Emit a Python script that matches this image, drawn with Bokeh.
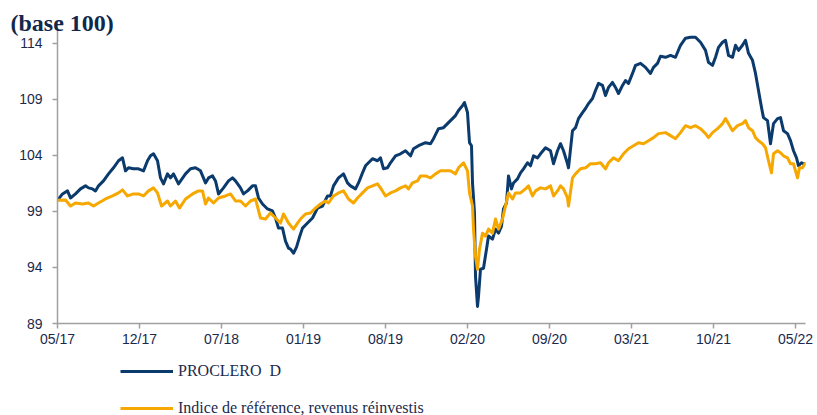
from bokeh.plotting import figure
from bokeh.layouts import column
from bokeh.models import ColumnDataSource, FixedTicker, Legend, LegendItem, Range1d, Title
from bokeh.embed import file_html
from bokeh.resources import INLINE

# ---- data (base 100) ----
# t: observation index along the category axis (one tick label every TICK_STEP observations)
fund_t = [0, 5, 10, 13, 18, 23, 28, 31, 35, 38, 41, 46, 51, 56, 61, 65, 68, 71, 76, 81, 86, 90, 93, 96, 100,
          103, 106, 110, 113, 116, 121, 128, 133, 138, 143, 148, 151, 155, 158, 161, 166, 171, 175, 178, 183,
          186, 190, 195, 198, 201, 205, 210, 215, 218, 221, 225, 228, 231, 233, 236, 239, 242, 245, 250, 255,
          260, 265, 270, 273, 276, 281, 286, 290, 293, 298, 301, 305, 308, 311, 315, 320, 323, 326, 330, 333,
          338, 343, 348, 353, 356, 361, 368, 373, 376, 381, 386, 391, 395, 398, 401, 405, 407, 410, 412, 414,
          415, 417, 418, 420, 421, 423, 426, 429, 431, 435, 438, 441, 444, 446, 449, 451, 454, 456, 460, 463,
          466, 470, 473, 476, 480, 483, 488, 493, 496, 500, 503, 506, 510, 511, 515, 518, 521, 525, 528, 531,
          535, 538, 541, 545, 548, 551, 555, 558, 561, 565, 568, 571, 575, 578, 583, 588, 593, 596, 600, 603,
          608, 613, 618, 623, 628, 633, 638, 643, 648, 651, 655, 658, 661, 665, 668, 671, 675, 678, 681, 685,
          688, 691, 695, 698, 701, 704, 706, 710, 713, 716, 720, 723, 726, 730, 733, 736, 739, 741, 744, 746, 748]
fund_v = [100.0, 100.56, 100.83, 100.20, 100.56, 101.01, 101.28, 101.10, 101.01, 100.83, 101.28, 101.72, 102.35,
          102.89, 103.52, 103.78, 102.62, 102.89, 102.80, 102.80, 102.62, 103.52, 103.96, 104.14, 103.52,
          101.99, 101.46, 102.35, 101.99, 102.35, 101.46, 102.35, 102.80, 102.89, 102.62, 101.54, 101.99,
          102.17, 101.72, 100.56, 101.10, 101.72, 101.99, 101.72, 101.10, 100.56, 100.83, 101.28, 101.28,
          100.20, 99.66, 99.22, 99.04, 98.41, 97.51, 97.51, 96.35, 95.72, 95.63, 95.27, 95.81, 96.71, 97.51,
          97.96, 98.41, 99.30, 99.48, 100.38, 100.38, 101.28, 101.99, 102.35, 101.54, 101.28, 101.01, 101.54,
          102.44, 103.07, 103.34, 103.70, 103.52, 103.78, 102.80, 102.89, 103.34, 103.96, 104.14, 104.41,
          103.96, 104.59, 104.86, 105.13, 105.04, 105.49, 106.38, 106.47, 106.92, 107.28, 107.55, 108.00,
          108.44, 108.71, 107.82, 105.13, 104.86, 101.54, 98.86, 93.21, 90.52, 91.42, 93.84, 93.93, 95.63,
          96.80, 96.53, 97.42, 97.06, 97.69, 99.22, 99.75, 102.17, 101.01, 101.54, 101.90, 102.44, 102.80,
          103.34, 103.07, 103.96, 103.78, 104.14, 104.68, 104.41, 103.25, 104.41, 105.04, 104.41, 103.25,
          102.89, 106.20, 106.47, 107.28, 107.82, 108.18, 108.62, 109.07, 109.79, 110.42, 110.24, 109.34,
          110.06, 110.51, 110.06, 109.52, 110.24, 110.68, 110.42, 111.31, 112.03, 112.21, 111.85, 111.31,
          111.85, 112.21, 112.84, 112.75, 112.92, 112.75, 113.82, 114.45, 114.54, 114.54, 114.09, 113.37,
          112.30, 112.03, 112.75, 113.64, 114.09, 114.27, 112.92, 112.75, 113.82, 113.37, 113.82, 114.27,
          113.10, 112.48, 111.31, 109.79, 108.27, 107.37, 107.10, 105.04, 106.83, 107.28, 107.37, 106.20,
          105.94, 105.31, 104.41, 103.78, 103.07, 103.34, 103.25, 103.25]

bench_t = [0, 8, 13, 18, 25, 31, 36, 41, 48, 55, 61, 65, 70, 76, 81, 86, 91, 96, 100, 104, 110, 113, 118, 122,
           128, 135, 141, 145, 148, 151, 156, 161, 168, 173, 178, 183, 188, 193, 198, 203, 208, 213, 218, 223,
           226, 231, 236, 240, 243, 248, 253, 258, 263, 268, 271, 276, 281, 286, 291, 296, 300, 305, 310, 315,
           320, 323, 328, 333, 338, 343, 348, 351, 355, 360, 363, 368, 373, 378, 383, 388, 393, 398, 401, 406,
           410, 412, 415, 416, 418, 420, 422, 425, 428, 431, 435, 438, 441, 445, 448, 451, 455, 458, 463, 468,
           471, 475, 478, 483, 488, 493, 496, 500, 503, 506, 510, 511, 515, 518, 523, 528, 533, 538, 543, 548,
           551, 556, 561, 566, 571, 576, 581, 586, 591, 596, 601, 608, 613, 618, 623, 628, 633, 638, 643, 648,
           651, 655, 660, 665, 668, 671, 675, 680, 685, 688, 691, 695, 698, 701, 705, 708, 711, 714, 716, 720,
           723, 726, 730, 733, 736, 740, 742, 745, 748]
bench_v = [100.0, 100.02, 99.48, 99.75, 99.66, 99.75, 99.48, 99.75, 100.11, 100.38, 100.65, 100.92, 100.38,
           100.56, 100.56, 100.38, 100.83, 101.10, 100.65, 99.48, 99.93, 99.48, 99.93, 99.30, 100.11, 100.56,
           100.83, 100.83, 99.66, 100.20, 99.75, 100.20, 100.38, 100.56, 99.93, 99.93, 99.48, 99.93, 100.11,
           98.41, 98.32, 98.86, 98.41, 97.96, 98.77, 97.96, 97.42, 97.96, 98.32, 98.77, 98.86, 99.30, 99.66,
           99.93, 99.75, 100.38, 100.65, 100.83, 100.11, 99.75, 100.20, 100.65, 101.10, 101.28, 101.46, 101.10,
           100.38, 100.65, 100.83, 101.10, 101.28, 101.01, 101.54, 101.72, 102.17, 102.17, 101.99, 102.35,
           102.62, 102.62, 102.62, 102.35, 102.89, 103.34, 102.62, 100.65, 99.48, 97.42, 95.00, 93.84, 95.63,
           97.06, 96.80, 97.42, 97.06, 98.32, 97.42, 98.32, 99.48, 100.65, 100.11, 100.65, 100.65, 101.01,
           101.28, 100.38, 100.83, 101.10, 101.01, 101.28, 100.38, 100.83, 101.28, 101.01, 100.20, 99.48,
           101.99, 102.35, 102.80, 102.89, 103.25, 103.25, 103.34, 102.80, 103.34, 103.78, 103.52, 104.14,
           104.59, 104.86, 105.13, 105.04, 105.31, 105.58, 105.94, 106.03, 105.76, 105.49, 106.03, 106.65,
           106.47, 106.65, 106.38, 105.94, 105.58, 106.03, 106.38, 106.83, 107.28, 106.83, 106.20, 106.65,
           106.83, 107.10, 106.47, 106.20, 105.58, 105.31, 105.04, 104.68, 103.52, 102.44, 104.14, 104.41,
           104.23, 103.96, 103.78, 103.25, 103.25, 101.99, 102.89, 102.89, 103.34]

series_names = ["PROCLERO  D", "Indice de référence, revenus réinvestis"]
tick_labels = ["05/17", "12/17", "07/18", "01/19", "08/19", "02/20", "09/20", "03/21", "10/21", "05/22"]
TICK_STEP = 82
y_ticks = [89, 94, 99, 104, 109, 114]
y_min, y_max = 89, 115.14
t_end = fund_t[-1]

NAVY = "#0b3a6c"
GOLD = "#f6a800"
TEXT = "#1b2a4c"
AXIS = "#a0a0a0"

fund_src = ColumnDataSource(dict(t=fund_t, v=fund_v))
bench_src = ColumnDataSource(dict(t=bench_t, v=bench_v))

# ---- main chart ----
p = figure(width=817, height=350, output_backend="svg", toolbar_location=None, title=None,
           x_range=Range1d(0, t_end), y_range=Range1d(y_min, y_max),
           min_border_left=57, min_border_right=12, min_border_top=30, min_border_bottom=27)
p.outline_line_color = None
p.grid.visible = False
p.background_fill_color = "white"
p.border_fill_color = "white"

p.line("t", "v", source=fund_src, line_color=NAVY, line_width=3, line_join="round")
p.line("t", "v", source=bench_src, line_color=GOLD, line_width=3, line_join="round")

xt = [i * TICK_STEP for i in range(len(tick_labels))]
p.xaxis.ticker = FixedTicker(ticks=xt, minor_ticks=[])
p.xaxis.major_label_overrides = {x: lab for x, lab in zip(xt, tick_labels)}
p.yaxis.ticker = FixedTicker(ticks=y_ticks, minor_ticks=[])

for ax in (p.xaxis[0], p.yaxis[0]):
    ax.axis_line_color = AXIS
    ax.axis_line_width = 1.5
    ax.major_tick_line_color = AXIS
    ax.major_tick_line_width = 1.5
    ax.major_tick_out = 5
    ax.major_tick_in = 0
    ax.minor_tick_line_color = None
    ax.major_label_text_font = "Liberation Sans"
    ax.major_label_text_font_size = "14px"
    ax.major_label_text_color = TEXT
p.xaxis.major_label_standoff = 2
p.yaxis.major_label_standoff = 10

p.add_layout(Title(text="(base 100)", align="left", offset=-47, standoff=-10, vertical_align="bottom",
                   text_font="Liberation Serif", text_font_style="bold", text_font_size="24px",
                   text_color="#10284c"), "above")

# ---- legend strip below the chart (series drawn outside its visible range, only the keys show) ----
lg = figure(width=817, height=65, output_backend="svg", toolbar_location=None, title=None,
            x_axis_type=None, y_axis_type=None, x_range=Range1d(0, 1), y_range=Range1d(0, 1),
            min_border_left=0, min_border_right=0, min_border_top=0, min_border_bottom=0)
lg.outline_line_color = None
lg.grid.visible = False
k1 = lg.line("t", "v", source=fund_src, line_color=NAVY, line_width=3)
k2 = lg.line("t", "v", source=bench_src, line_color=GOLD, line_width=3)
legend = Legend(items=[LegendItem(label=series_names[0], renderers=[k1]),
                       LegendItem(label=series_names[1], renderers=[k2])],
                location=(63, -2), orientation="vertical", glyph_width=53, glyph_height=16,
                label_height=16, label_standoff=5, spacing=19, padding=0, margin=0,
                border_line_alpha=0, background_fill_alpha=0,
                label_text_font="Liberation Serif", label_text_font_size="16px", label_text_color=TEXT)
lg.add_layout(legend)

page = column(p, lg, spacing=0)
open("out.html", "w").write(file_html(page, INLINE))
